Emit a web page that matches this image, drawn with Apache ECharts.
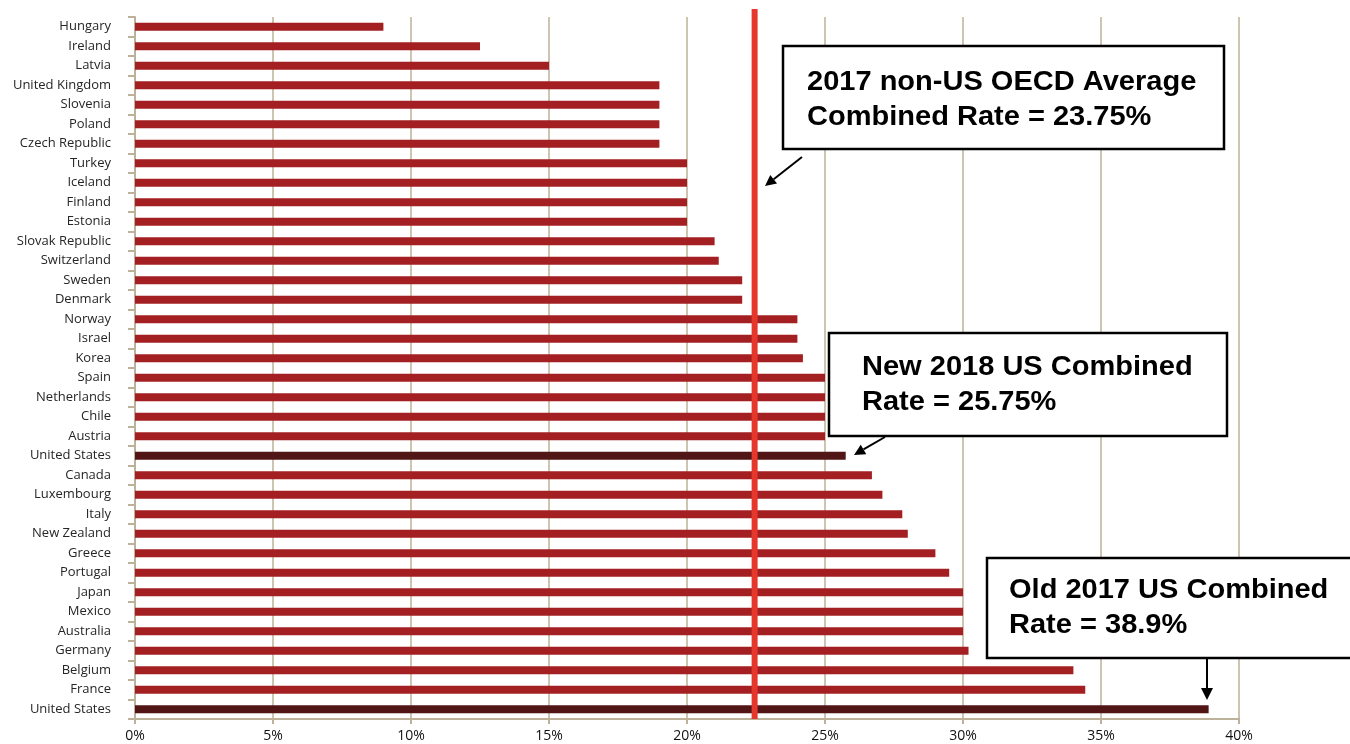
<!DOCTYPE html>
<html>
<head>
<meta charset="utf-8">
<script src="https://cdn.jsdelivr.net/npm/echarts@6/dist/echarts.min.js"></script>
<style>
  html, body { margin: 0; padding: 0; background: #fff; }
  #chart { width: 1350px; height: 744px; }
</style>
</head>
<body>
<div id="chart"></div>
<script>
// categories, top to bottom
const countries = [
  "Hungary", "Ireland", "Latvia", "United Kingdom", "Slovenia", "Poland",
  "Czech Republic", "Turkey", "Iceland", "Finland", "Estonia", "Slovak Republic",
  "Switzerland", "Sweden", "Denmark", "Norway", "Israel", "Korea", "Spain",
  "Netherlands", "Chile", "Austria", "United States", "Canada", "Luxembourg",
  "Italy", "New Zealand", "Greece", "Portugal", "Japan", "Mexico", "Australia",
  "Germany", "Belgium", "France", "United States"
];
// combined corporate rate, %
const rates = [
  9, 12.5, 15, 19, 19, 19,
  19, 20, 20, 20, 20, 21,
  21.15, 22, 22, 24, 24, 24.2, 25,
  25, 25, 25, 25.75, 26.7, 27.08,
  27.8, 28, 29, 29.5, 30, 30, 30,
  30.2, 34, 34.43, 38.9
];
const xTicks = [0, 5, 10, 15, 20, 25, 30, 35, 40];
const avgLine = 22.45; // where the red line sits on the axis

const notes = [
  "2017 non-US OECD Average\nCombined Rate = 23.75%",
  "New 2018 US Combined\nRate = 25.75%",
  "Old 2017 US Combined\nRate = 38.9%"
];

const barRed = "#a41f22";
const barDark = "#521516";
const tan = "#bcb199";

const chart = echarts.init(document.getElementById("chart"));

function arrow(x1, y1, x2, y2, hl, hw) {
  const dx = x2 - x1, dy = y2 - y1;
  const len = Math.hypot(dx, dy);
  const ux = dx / len, uy = dy / len;
  const bx = x2 - ux * hl, by = y2 - uy * hl;
  return [
    { type: "line", z: 20, shape: { x1: x1, y1: y1, x2: bx, y2: by },
      style: { stroke: "#000", lineWidth: 2 } },
    { type: "polygon", z: 20,
      shape: { points: [[x2, y2], [bx - uy * hw, by + ux * hw], [bx + uy * hw, by - ux * hw]] },
      style: { fill: "#000" } }
  ];
}

// the callout text in the original is a bit wider than plain Arial bold
function noteBox(x, y, w, h, tx, ty, text) {
  return [
    { type: "rect", z: 20, shape: { x: x, y: y, width: w, height: h },
      style: { fill: "#fff", stroke: "#000", lineWidth: 2.5 } },
    { type: "text", z: 21, x: tx, y: ty, scaleX: 1.075,
      style: { text: text, fill: "#000", fontSize: 27, fontWeight: "bold",
               fontFamily: "'Liberation Sans', Arial, sans-serif", lineHeight: 35 } }
  ];
}

chart.setOption({
  animation: false,
  grid: { left: 135, right: 111, top: 17, bottom: 25, containLabel: false },
  xAxis: {
    type: "value",
    min: xTicks[0],
    max: xTicks[xTicks.length - 1],
    interval: 5,
    axisLine: { show: true, lineStyle: { color: tan, width: 2 } },
    axisTick: { show: true, length: 5, lineStyle: { color: tan, width: 2 } },
    splitLine: { show: true, lineStyle: { color: tan, width: 1.5 } },
    axisLabel: {
      formatter: "{value}%", color: "#111", fontSize: 14, margin: 10,
      fontFamily: "'Open Sans', sans-serif"
    }
  },
  yAxis: {
    type: "category",
    inverse: true,
    data: countries,
    axisLine: { show: true, lineStyle: { color: tan, width: 2 } },
    axisTick: { show: true, length: 7, lineStyle: { color: tan, width: 2 } },
    axisLabel: { color: "#262626", fontSize: 13, margin: 24, fontFamily: "'Open Sans', sans-serif" }
  },
  series: [{
    type: "bar",
    barWidth: 8,
    data: rates.map((v, i) => ({
      value: v,
      itemStyle: { color: countries[i] === "United States" ? barDark : barRed }
    }))
  }]
});

// red average line, extending a little above the plot like the original
const lineX = chart.convertToPixel({ xAxisIndex: 0 }, avgLine);

chart.setOption({
  graphic: [
    { type: "line", z: 15, shape: { x1: lineX, y1: 9, x2: lineX, y2: 719 },
      style: { stroke: "#e5372b", lineWidth: 6 } },
    ...noteBox(783, 46, 441, 103, 807, 65, notes[0]),
    ...arrow(802, 157, 765, 186, 11, 5.5),
    ...noteBox(829, 333, 398, 103, 862, 350, notes[1]),
    ...arrow(885, 437, 854, 455, 11, 5.5),
    ...noteBox(987, 558, 380, 100, 1009, 573, notes[2]),
    ...arrow(1207, 658, 1207, 700, 12, 6)
  ]
});
</script>
</body>
</html>
